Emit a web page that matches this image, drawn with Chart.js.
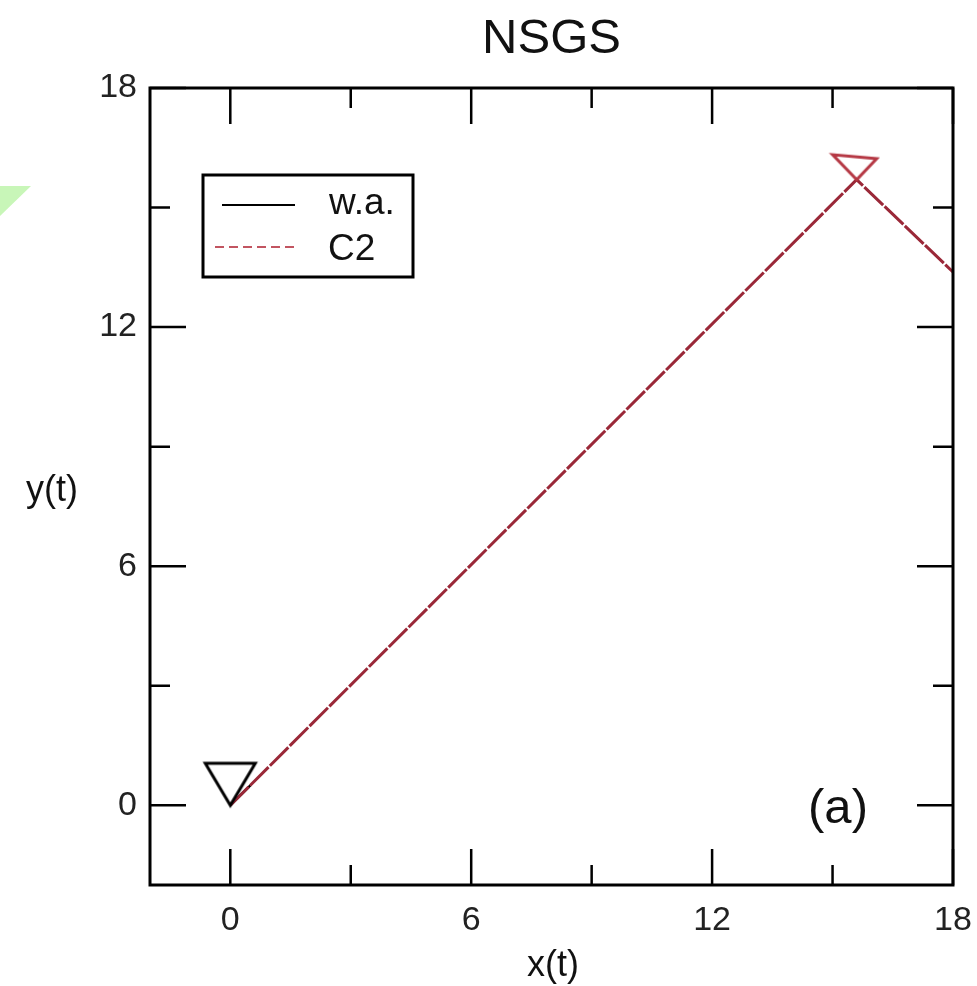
<!DOCTYPE html>
<html><head><meta charset="utf-8">
<script src="https://cdn.jsdelivr.net/npm/chart.js@4.4.1/dist/chart.umd.min.js"></script>
<style>html,body{margin:0;padding:0;background:#fff;overflow:hidden}canvas{display:block}</style>
</head><body>
<canvas id="c" width="977" height="986"></canvas>
<script>
const titleText = 'NSGS';
const xAxisTitle = 'x(t)';
const yAxisTitle = 'y(t)';
const panelLabel = '(a)';
const seriesNames = ['w.a.', 'C2'];
const xMajorTicks = [0, 6, 12, 18];
const yMajorTicks = [0, 6, 12, 18];
const xMinorTicks = [3, 9, 15];
const yMinorTicks = [3, 9, 15];
const waX = [0, 0.5];
const waY = [0, 0.5];
const c2X = [0, 15.6, 18.5];
const c2Y = [0, 15.7, 12.9];
const waMarker = [0, 0];
const c2Marker = [15.6, 15.7];

const FONT = '"Liberation Sans", Arial, Helvetica, sans-serif';
const RED = '#9a2838';
const RED_MARK = '#b53844';

function toPts(xs, ys) { return xs.map((x, i) => ({ x: x, y: ys[i] })); }

// marker images: apex of the triangle sits at the image centre (= the data point)
function triImage(color, a, b) {
  const w = 110, h = 110;
  const c = document.createElement('canvas');
  c.width = w; c.height = h;
  const g = c.getContext('2d');
  g.strokeStyle = color; g.lineWidth = 3; g.lineJoin = 'miter';
  g.beginPath();
  g.moveTo(w / 2, h / 2);
  g.lineTo(w / 2 + a[0], h / 2 + a[1]);
  g.lineTo(w / 2 + b[0], h / 2 + b[1]);
  g.closePath();
  g.stroke();
  return c;
}
const blackTri = triImage('#000', [-25, -42], [25, -42]);
const redTri = triImage(RED_MARK, [-24, -25], [20, -21]);

const framePlugin = {
  id: 'frame',
  beforeDraw(chart) {
    const ctx = chart.ctx;
    ctx.save();
    ctx.fillStyle = '#fff';
    ctx.fillRect(0, 0, chart.width, chart.height);
    ctx.fillStyle = 'rgb(200,246,184)';
    ctx.beginPath();
    ctx.moveTo(0, 186); ctx.lineTo(31, 186); ctx.lineTo(0, 216); ctx.closePath();
    ctx.fill();
    ctx.restore();
  },
  afterDraw(chart) {
    const ctx = chart.ctx;
    const a = chart.chartArea;
    const xs = chart.scales.x, ys = chart.scales.y;
    ctx.save();
    ctx.strokeStyle = '#000';
    ctx.lineWidth = 2.5;
    const tick = (vals, len) => {
      vals.forEach(v => {
        const px = xs.getPixelForValue(v);
        ctx.beginPath();
        ctx.moveTo(px, a.bottom); ctx.lineTo(px, a.bottom - len);
        ctx.moveTo(px, a.top); ctx.lineTo(px, a.top + len);
        ctx.stroke();
      });
    };
    const ytick = (vals, len) => {
      vals.forEach(v => {
        const py = ys.getPixelForValue(v);
        ctx.beginPath();
        ctx.moveTo(a.left, py); ctx.lineTo(a.left + len, py);
        ctx.moveTo(a.right, py); ctx.lineTo(a.right - len, py);
        ctx.stroke();
      });
    };
    tick(xMajorTicks, 36); tick(xMinorTicks, 20);
    ytick(yMajorTicks, 36); ytick(yMinorTicks, 20);
    ctx.lineWidth = 3;
    ctx.strokeRect(a.left, a.top, a.right - a.left, a.bottom - a.top);

    // legend
    ctx.lineWidth = 3;
    ctx.strokeRect(203, 175, 210, 102);
    ctx.lineWidth = 2;
    ctx.beginPath(); ctx.moveTo(222, 205); ctx.lineTo(295, 205); ctx.stroke();
    ctx.strokeStyle = '#c25561';
    ctx.setLineDash([9, 5]);
    ctx.beginPath(); ctx.moveTo(215, 247); ctx.lineTo(295, 247); ctx.stroke();
    ctx.setLineDash([]);
    ctx.fillStyle = '#111';
    ctx.font = '37px ' + FONT;
    ctx.textAlign = 'left';
    ctx.textBaseline = 'middle';
    ctx.fillText(seriesNames[0], 329, 204);
    ctx.fillText(seriesNames[1], 328, 250);

    // titles
    ctx.textAlign = 'center';
    ctx.textBaseline = 'alphabetic';
    ctx.font = '49px ' + FONT;
    ctx.fillText(titleText, (a.left + a.right) / 2, 53);
    ctx.font = '36px ' + FONT;
    ctx.fillText(xAxisTitle, 553, 976);
    ctx.fillText(yAxisTitle, 52, 501);
    ctx.font = '49px ' + FONT;
    ctx.fillText(panelLabel, 838, 823);
    ctx.restore();
  }
};

new Chart(document.getElementById('c'), {
  type: 'scatter',
  data: {
    datasets: [
      { label: seriesNames[0], data: toPts(waX, waY), showLine: true, borderColor: '#000', borderWidth: 2.5, pointRadius: 0, order: 3 },
      { label: seriesNames[1], data: toPts(c2X, c2Y), showLine: true, borderColor: RED, borderWidth: 3, borderDash: [26, 2], pointRadius: 0, order: 2 },
      { label: 'marker-wa', data: [{ x: waMarker[0], y: waMarker[1] }], showLine: false, pointStyle: blackTri, pointRadius: 10, order: 1 },
      { label: 'marker-c2', data: [{ x: c2Marker[0], y: c2Marker[1] }], showLine: false, pointStyle: redTri, pointRadius: 10, order: 1 }
    ]
  },
  options: {
    responsive: false,
    animation: false,
    layout: { padding: { top: 88, right: 24, left: 0, bottom: 0 } },
    plugins: { legend: { display: false }, tooltip: { enabled: false }, title: { display: false } },
    scales: {
      x: {
        type: 'linear', min: -2, max: 18,
        grid: { display: false, drawTicks: false },
        border: { display: false },
        afterBuildTicks: s => { s.ticks = xMajorTicks.map(v => ({ value: v })); },
        afterFit: s => { s.height = 101; s.paddingRight = 0; s.paddingLeft = 0; },
        ticks: { color: '#222', padding: 15, font: { size: 34, family: FONT }, maxRotation: 0, autoSkip: false }
      },
      y: {
        type: 'linear', min: -2, max: 18,
        grid: { display: false, drawTicks: false },
        border: { display: false },
        afterBuildTicks: s => { s.ticks = yMajorTicks.map(v => ({ value: v })); },
        afterFit: s => { s.width = 150; s.paddingTop = 0; s.paddingBottom = 0; },
        ticks: { color: '#222', padding: 13, font: { size: 34, family: FONT }, autoSkip: false }
      }
    }
  },
  plugins: [framePlugin]
});
</script>
</body></html>
